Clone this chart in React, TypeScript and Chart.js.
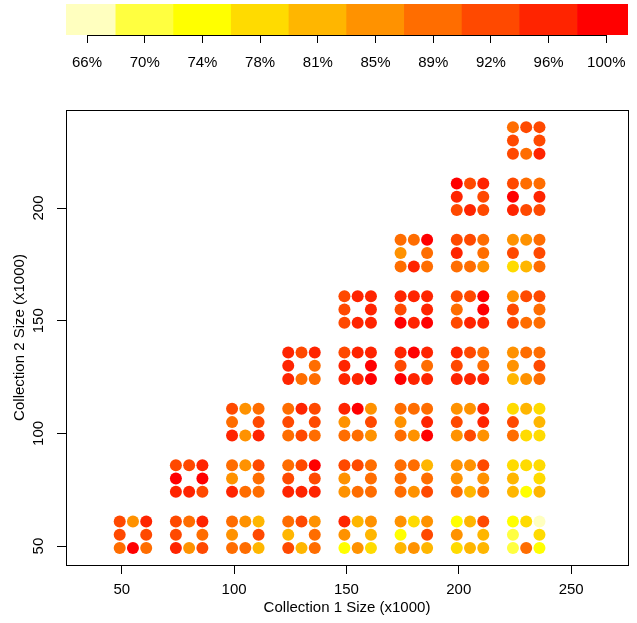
import React, { useEffect, useRef } from "react";
import { Chart, registerables } from "chart.js";

Chart.register(...registerables);

// ---- colour key ----
const legendLabels = ["66%", "70%", "74%", "78%", "81%", "85%", "89%", "92%", "96%", "100%"];
const legendValues = [66, 70, 74, 78, 81, 85, 89, 92, 96, 100];
const legendColors = ["#FFFFBF", "#FFFF40", "#FFFF00", "#FFDB00", "#FFB600", "#FF9200", "#FF6D00", "#FF4900", "#FF2400", "#FF0000"];

// ---- axes ----
const xTicks = [50, 100, 150, 200, 250];
const yTicks = [50, 100, 150, 200];
const xTitle = "Collection 1 Size (x1000)";
const yTitle = "Collection 2 Size (x1000)";

// ---- cluster grid (sizes x1000) ----
const clusterX = [50, 75, 75, 100, 100, 100, 125, 125, 125, 125, 150, 150, 150, 150, 150,
  175, 175, 175, 175, 175, 175, 200, 200, 200, 200, 200, 200, 200,
  225, 225, 225, 225, 225, 225, 225, 225];
const clusterY = [50, 50, 75, 50, 75, 100, 50, 75, 100, 125, 50, 75, 100, 125, 150,
  50, 75, 100, 125, 150, 175, 50, 75, 100, 125, 150, 175, 200,
  50, 75, 100, 125, 150, 175, 200, 225];

// 8 cells per cluster: top row (L,C,R), middle (L,R), bottom row (L,C,R)
const cellDX = [-1, 0, 1, -1, 1, -1, 0, 1];
const cellDY = [1, 1, 1, 0, 0, -1, -1, -1];
const cellCenter = 5;
const cellStep = 5.9;

// percentage values per cluster (same order as clusterX / clusterY)
const clusterValues: number[][] = [
  [92, 85, 96, 92, 92, 89, 100, 89],
  [92, 89, 96, 92, 89, 96, 85, 92],
  [92, 92, 96, 100, 100, 96, 96, 92],
  [89, 85, 81, 85, 92, 89, 89, 81],
  [89, 85, 92, 85, 89, 96, 89, 89],
  [92, 85, 89, 89, 92, 96, 85, 96],
  [89, 92, 85, 81, 89, 92, 81, 89],
  [89, 92, 100, 92, 92, 96, 96, 96],
  [89, 96, 92, 92, 92, 89, 92, 89],
  [96, 92, 96, 96, 89, 96, 89, 89],
  [96, 81, 85, 85, 81, 74, 85, 78],
  [92, 92, 89, 85, 89, 85, 89, 89],
  [96, 100, 85, 85, 92, 89, 89, 85],
  [92, 96, 96, 96, 100, 96, 96, 100],
  [92, 96, 96, 92, 96, 92, 96, 96],
  [85, 78, 85, 74, 92, 81, 85, 81],
  [89, 89, 81, 89, 89, 89, 85, 92],
  [89, 89, 89, 85, 96, 89, 85, 100],
  [96, 100, 96, 92, 89, 100, 96, 96],
  [96, 96, 96, 92, 96, 100, 96, 100],
  [89, 89, 100, 85, 89, 89, 96, 89],
  [74, 81, 92, 85, 81, 78, 81, 81],
  [85, 85, 92, 85, 85, 89, 81, 89],
  [85, 85, 96, 92, 96, 85, 92, 85],
  [96, 92, 89, 92, 89, 96, 96, 96],
  [92, 92, 100, 89, 100, 92, 96, 96],
  [92, 92, 89, 96, 89, 89, 89, 85],
  [100, 92, 96, 96, 92, 92, 96, 92],
  [74, 78, 66, 70, 78, 70, 89, 74],
  [78, 78, 78, 81, 78, 81, 74, 81],
  [78, 81, 78, 92, 81, 89, 78, 78],
  [85, 89, 89, 85, 92, 81, 85, 89],
  [85, 92, 92, 92, 89, 92, 89, 89],
  [85, 85, 89, 92, 92, 78, 81, 89],
  [92, 89, 89, 100, 96, 96, 92, 92],
  [89, 92, 92, 92, 92, 92, 89, 96],
];

const FONT = "'Liberation Sans', Arial, Helvetica, sans-serif";
const FS = 15;

function colorFor(v: number): string {
  let best = 0;
  for (let i = 1; i < legendValues.length; i++) {
    if (Math.abs(legendValues[i] - v) < Math.abs(legendValues[best] - v)) best = i;
  }
  return legendColors[best];
}

function noPad(s: any) {
  s.paddingLeft = 0;
  s.paddingRight = 0;
  s.paddingTop = 0;
  s.paddingBottom = 0;
}

const boxPlugin = {
  id: "rbox",
  afterDraw(chart: any) {
    const { ctx, chartArea } = chart;
    const l = Math.round(chartArea.left) + 0.5;
    const t = Math.round(chartArea.top) + 0.5;
    const r = Math.round(chartArea.right) + 0.5;
    const b = Math.round(chartArea.bottom) + 0.5;
    ctx.save();
    ctx.strokeStyle = "#000";
    ctx.lineWidth = 1;
    ctx.strokeRect(l, t, r - l, b - t);
    ctx.restore();
  },
};

const keyAxisLine = {
  id: "keyAxisLine",
  afterDraw(chart: any) {
    const { ctx, chartArea } = chart;
    const sx = chart.scales.x;
    const x1 = Math.round(sx.getPixelForValue(1)) + 0.5;
    const x2 = Math.round(sx.getPixelForValue(legendValues.length)) + 0.5;
    const y = Math.round(chartArea.bottom) + 0.5;
    ctx.save();
    ctx.strokeStyle = "#000";
    ctx.lineWidth = 1;
    ctx.beginPath();
    ctx.moveTo(x1 - 0.5, y);
    ctx.lineTo(x2 + 0.5, y);
    ctx.stroke();
    ctx.restore();
  },
};

export default function App() {
  const mainRef = useRef<HTMLCanvasElement>(null);
  const keyRef = useRef<HTMLCanvasElement>(null);

  useEffect(() => {
    const points: { x: number; y: number }[] = [];
    const colors: string[] = [];
    clusterX.forEach((cx, i) => {
      const cy = clusterY[i];
      clusterValues[i].forEach((v, j) => {
        points.push({
          x: cx + cellCenter + cellDX[j] * cellStep,
          y: cy + cellCenter + cellDY[j] * cellStep,
        });
        colors.push(colorFor(v));
      });
    });

    const font = { family: FONT, size: FS };

    const main = new Chart(mainRef.current!, {
      type: "scatter",
      data: {
        datasets: [
          {
            data: points,
            pointBackgroundColor: colors,
            pointBorderWidth: 0,
            pointRadius: 6,
            pointHoverRadius: 6,
          },
        ],
      },
      options: {
        animation: false,
        responsive: false,
        events: [],
        layout: { padding: { left: 0, top: 110, right: 9, bottom: 0 } },
        plugins: { legend: { display: false }, tooltip: { enabled: false } },
        scales: {
          x: {
            type: "linear",
            min: 25.2,
            max: 275.3,
            afterBuildTicks: (s: any) => {
              s.ticks = xTicks.map((v) => ({ value: v }));
            },
            afterFit: (s: any) => {
              s.height = 58;
              noPad(s);
            },
            grid: { drawOnChartArea: false, drawTicks: true, tickLength: 9, color: "#000", tickColor: "#000" },
            border: { display: false },
            ticks: { color: "#000", font, padding: 7, maxRotation: 0, autoSkip: false },
            title: { display: true, text: xTitle, color: "#000", font, padding: { top: 0, bottom: 6 } },
          },
          y: {
            type: "linear",
            min: 41.6,
            max: 243.5,
            afterBuildTicks: (s: any) => {
              s.ticks = yTicks.map((v) => ({ value: v }));
            },
            afterFit: (s: any) => {
              s.width = 66;
              noPad(s);
            },
            grid: { drawOnChartArea: false, drawTicks: true, tickLength: 9, color: "#000", tickColor: "#000" },
            border: { display: false },
            ticks: {
              color: "#000",
              font,
              padding: 6,
              minRotation: 90,
              maxRotation: 90,
              crossAlign: "center",
              autoSkip: false,
            },
            title: { display: true, text: yTitle, color: "#000", font, padding: { top: 11, bottom: 0 } },
          },
        },
      },
      plugins: [boxPlugin],
    } as any);

    const key = new Chart(keyRef.current!, {
      type: "bar",
      data: {
        datasets: [
          {
            data: legendValues.map((_, i) => ({ x: i + 1, y: 1 })),
            backgroundColor: legendColors,
            borderWidth: 0,
            barPercentage: 1,
            categoryPercentage: 1,
          },
        ],
      },
      options: {
        animation: false,
        responsive: false,
        events: [],
        layout: { padding: { left: 66, right: 9, top: 4, bottom: 0 } },
        plugins: { legend: { display: false }, tooltip: { enabled: false } },
        scales: {
          x: {
            type: "linear",
            offset: false,
            min: 0.636,
            max: 10.376,
            afterBuildTicks: (s: any) => {
              s.ticks = legendValues.map((_, i) => ({ value: i + 1 }));
            },
            afterFit: (s: any) => {
              s.height = 45;
              noPad(s);
            },
            grid: { offset: false, drawOnChartArea: false, drawTicks: true, tickLength: 8, color: "#000", tickColor: "#000" },
            border: { display: false },
            ticks: {
              color: "#000",
              font,
              padding: 11,
              maxRotation: 0,
              autoSkip: false,
              callback: (_v: any, i: number) => legendLabels[i],
            },
          },
          y: { display: false, min: 0, max: 1 },
        },
      },
      plugins: [keyAxisLine],
    } as any);

    return () => {
      main.destroy();
      key.destroy();
    };
  }, []);

  return (
    <div style={{ position: "absolute", left: 0, top: 0, width: 637, height: 623, background: "#fff" }}>
      <canvas
        ref={mainRef}
        width={637}
        height={623}
        style={{ position: "absolute", left: 0, top: 0, width: 637, height: 623 }}
      />
      <canvas
        ref={keyRef}
        width={637}
        height={80}
        style={{ position: "absolute", left: 0, top: 0, width: 637, height: 80 }}
      />
    </div>
  );
}
